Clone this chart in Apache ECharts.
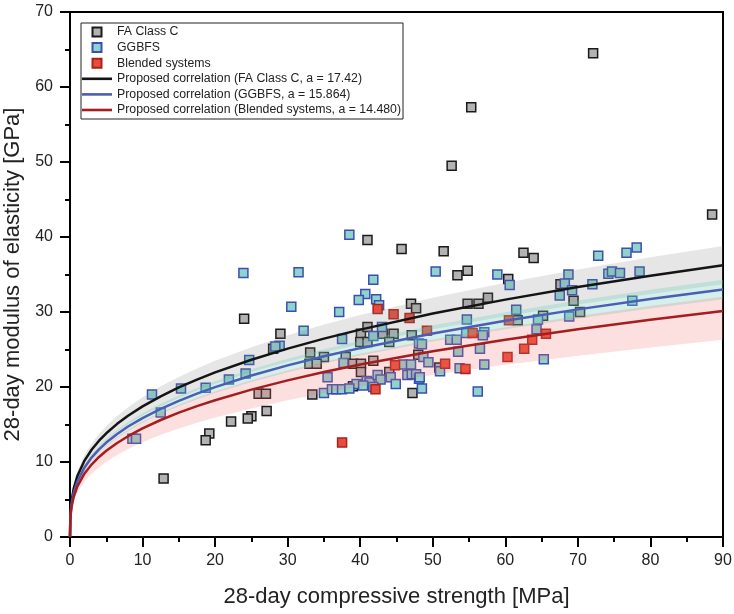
<!DOCTYPE html>
<html>
<head>
<meta charset="utf-8">
<script src="https://cdn.jsdelivr.net/npm/echarts@6/dist/echarts.min.js"></script>
<style>html,body{margin:0;padding:0;background:#fff}#c{width:734px;height:614px}</style>
</head>
<body>
<div id="c"></div>
<script>
// ---- scatter data (28-day compressive strength [MPa], 28-day modulus [GPa]) ----
const faX = [72.1,55.3,52.6,88.5,12.9,41.0,45.7,24.0,29.0,28.0,33.1,35.0,40.1,41.0,40.0,41.0,43.1,44.6,44.0,47.0,47.7,47.1,33.0,34.0,38.0,39.0,40.1,40.1,41.8,44.0,48.0,26.0,27.0,39.0,33.4,47.2,27.1,25.0,24.5,22.2,19.2,18.7,51.5,62.5,63.9,53.4,54.8,60.4,67.6,69.4,70.3,65.2,61.7,54.8,56.3,57.6,50.9];
const faY = [64.5,57.3,49.5,43.0,7.8,39.6,38.4,29.1,27.1,25.1,24.6,24.0,27.1,28.0,26.0,26.0,27.1,27.1,26.0,31.1,30.5,26.9,23.1,23.1,24.0,23.1,23.1,22.0,23.5,22.0,24.3,19.1,19.1,20.1,19.0,19.2,16.8,16.1,15.8,15.4,13.8,12.9,38.1,37.9,37.2,34.9,35.5,34.4,33.7,31.5,30.0,29.5,28.9,31.1,31.1,31.9,22.6];

const ggX = [38.5,23.9,31.5,41.8,40.7,39.8,42.2,42.6,30.5,37.1,32.2,43.0,37.5,28.9,28.3,24.7,24.2,21.9,18.7,15.3,11.3,12.5,8.6,9.1,41.8,37.7,35.5,39.5,40.9,41.3,42.4,42.8,44.2,44.9,35.0,36.1,36.7,37.5,38.5,40.4,41.8,45.9,47.0,46.5,47.1,47.7,48.1,48.1,50.4,58.9,60.6,72.8,76.7,78.1,68.7,68.2,69.2,67.5,72.0,74.2,74.7,75.8,78.5,77.5,61.5,54.7,64.5,68.8,64.3,54.6,57.1,56.9,52.4,53.3,48.5,56.5,53.5,48.7,49.4,57.1,53.7,51.0,48.2,48.5,56.2,65.3];
const ggY = [40.3,35.2,35.3,34.3,32.4,31.6,31.7,30.9,30.7,30.0,27.5,28.0,26.4,25.5,25.4,23.6,21.8,21.0,19.9,19.8,19.0,16.6,13.1,13.1,26.8,23.2,21.3,20.4,20.8,20.6,21.6,21.0,21.3,20.4,19.2,19.7,19.7,19.7,19.8,20.2,20.0,23.0,23.0,21.6,21.7,21.7,21.1,25.8,35.4,35.0,33.6,37.5,37.9,38.6,35.0,33.8,32.9,32.2,33.7,35.1,35.4,35.2,35.4,31.5,30.3,29.0,29.0,29.4,27.7,27.2,27.3,26.9,26.3,26.3,25.7,25.1,24.7,24.0,23.3,23.0,22.5,22.1,21.3,19.8,19.4,23.7];

const blX = [42.4,44.6,46.8,44.8,42.1,37.5,55.5,65.6,63.7,62.6,60.3,51.7,54.5,49.2,60.5];
const blY = [30.4,29.7,29.2,22.9,19.7,12.6,27.2,27.1,26.3,25.1,24.0,23.1,22.4,27.5,28.9];

// ---- proposed correlation curves and their bands, sampled along x ----
const curveX  = [0,0.05,0.2,0.5,1,2,3,4,5,6.5,8,10,12.5,15,17.5,20,25,30,35,40,50,60,70,80,90];
const faCurve = [0,2.98,4.73,6.42,8.09,10.19,11.66,12.84,13.83,15.09,16.17,17.42,18.76,19.94,20.99,21.95,23.64,25.12,26.45,27.65,29.79,31.65,33.32,34.84,36.24];
const ggCurve = [0,2.71,4.31,5.84,7.36,9.28,10.62,11.69,12.59,13.74,14.73,15.86,17.09,18.16,19.12,19.99,21.53,22.88,24.09,25.18,27.13,28.83,30.35,31.73,33.00];
const blCurve = [0,2.48,3.93,5.33,6.72,8.47,9.69,10.67,11.49,12.54,13.44,14.48,15.60,16.58,17.45,18.24,19.65,20.88,21.99,22.99,24.76,26.31,27.70,28.96,30.12];
const faHi = [0,3.19,5.06,6.87,8.66,10.91,12.48,13.74,14.80,16.15,17.31,18.65,20.09,21.35,22.48,23.50,25.31,26.90,28.32,29.60,31.89,33.89,35.68,37.30,38.79];
const faLo = [0,2.77,4.40,5.97,7.52,9.47,10.84,11.94,12.86,14.03,15.04,16.20,17.45,18.54,19.52,20.41,21.99,23.36,24.60,25.72,27.70,29.44,30.99,32.40,33.70];
const ggHi = [0,2.82,4.48,6.07,7.65,9.64,11.04,12.15,13.09,14.28,15.31,16.49,17.76,18.88,19.87,20.78,22.38,23.78,25.04,26.18,28.20,29.96,31.54,32.98,34.30];
const ggLo = [0,2.61,4.14,5.61,7.07,8.91,10.20,11.23,12.10,13.20,14.15,15.24,16.42,17.45,18.37,19.20,20.68,21.98,23.14,24.19,26.06,27.69,29.15,30.48,31.70];
const blHi = [0,2.63,4.18,5.67,7.15,9.01,10.31,11.35,12.22,13.34,14.30,15.40,16.59,17.63,18.56,19.40,20.90,22.21,23.38,24.45,26.33,27.98,29.46,30.80,32.03];
const blLo = [0,2.16,3.43,4.66,5.87,7.39,8.46,9.31,10.03,10.95,11.73,12.64,13.62,14.47,15.23,15.93,17.15,18.23,19.19,20.06,21.61,22.97,24.18,25.28,26.29];

const xTicks = [0,10,20,30,40,50,60,70,80,90];
const yTicks = [0,10,20,30,40,50,60,70];

const names = {
  fa: 'FA Class C', gg: 'GGBFS', bl: 'Blended systems',
  faL: 'Proposed correlation (FA Class C, a = 17.42)',
  ggL: 'Proposed correlation (GGBFS, a = 15.864)',
  blL: 'Proposed correlation (Blended systems, a = 14.480)'
};

const zip = (a, b) => a.map((v, i) => [v, b[i]]);
const FONT = '"Liberation Sans", Arial, sans-serif';
const SQUARE = 'path://M0 0H10V10H0Z';
const BAR = 'path://M0 0H30V2.6H0Z';

function band(hi, lo, color) {
  return {
    type: 'custom', silent: true, z: 3, data: [[0, 0]],
    renderItem: function (params, api) {
      const pts = [];
      for (let i = 0; i < curveX.length; i++) pts.push(api.coord([curveX[i], hi[i]]));
      for (let i = curveX.length - 1; i >= 0; i--) pts.push(api.coord([curveX[i], lo[i]]));
      return { type: 'polygon', shape: { points: pts }, style: { fill: color } };
    }
  };
}

function scatter(name, xs, ys, fill, stroke) {
  return {
    name: name, type: 'scatter', symbol: 'rect', symbolSize: 9, z: 2,
    data: zip(xs, ys),
    itemStyle: { color: fill, borderColor: stroke, borderWidth: 1.5, opacity: 1 }
  };
}

function curve(name, ys, color) {
  return {
    name: name, type: 'line', showSymbol: false, symbol: 'none', z: 5,
    data: zip(curveX, ys), smooth: false,
    lineStyle: { color: color, width: 2.5 }, itemStyle: { color: color }
  };
}

const chart = echarts.init(document.getElementById('c'), null, { renderer: 'canvas' });
chart.setOption({
  animation: false,
  backgroundColor: '#fff',
  textStyle: { fontFamily: FONT },
  grid: { left: 70, right: 11, top: 12, bottom: 77, outerBoundsMode: 'none', containLabel: false,
          show: true, borderColor: '#000', borderWidth: 2, backgroundColor: 'transparent' },
  legend: {
    orient: 'vertical', left: 81, top: 23,
    padding: [3, 2, 3, 1], itemGap: 3.6, itemWidth: 30, itemHeight: 9,
    symbolKeepAspect: true,
    borderColor: '#222', borderWidth: 1, backgroundColor: '#fff',
    textStyle: { fontFamily: FONT, fontSize: 12.3, color: '#222' },
    data: [
      { name: names.fa, icon: SQUARE },
      { name: names.gg, icon: SQUARE },
      { name: names.bl, icon: SQUARE },
      { name: names.faL, icon: BAR, itemStyle: { borderWidth: 0 } },
      { name: names.ggL, icon: BAR, itemStyle: { borderWidth: 0 } },
      { name: names.blL, icon: BAR, itemStyle: { borderWidth: 0 } }
    ]
  },
  xAxis: {
    type: 'value', min: xTicks[0], max: xTicks[xTicks.length - 1], interval: 10,
    name: '28-day compressive strength [MPa]', nameLocation: 'middle', nameGap: 49,
    nameTextStyle: { fontSize: 22, color: '#222', fontFamily: FONT },
    axisLine: { show: true, lineStyle: { color: '#000', width: 2 } },
    axisTick: { show: true, inside: false, length: 10, lineStyle: { color: '#000', width: 2 } },
    minorTick: { show: true, splitNumber: 2, length: 5, lineStyle: { color: '#000', width: 2 } },
    axisLabel: { fontSize: 16, color: '#222', margin: 16, fontFamily: FONT },
    splitLine: { show: false }
  },
  yAxis: {
    type: 'value', min: yTicks[0], max: yTicks[yTicks.length - 1], interval: 10,
    name: '28-day modulus of elasticity [GPa]', nameLocation: 'middle', nameGap: 42,
    nameTextStyle: { fontSize: 22, color: '#222', fontFamily: FONT },
    axisLine: { show: true, lineStyle: { color: '#000', width: 2 } },
    axisTick: { show: true, inside: false, length: 10, lineStyle: { color: '#000', width: 2 } },
    minorTick: { show: true, splitNumber: 2, length: 5, lineStyle: { color: '#000', width: 2 } },
    axisLabel: { fontSize: 16, color: '#222', margin: 17, fontFamily: FONT },
    splitLine: { show: false }
  },
  series: [
    scatter(names.fa, faX, faY, '#b3b3b3', '#1a1a1a'),
    scatter(names.gg, ggX, ggY, '#8fd3cc', '#3a4fb0'),
    scatter(names.bl, blX, blY, '#e94c3a', '#a8221c'),
    band(faHi, faLo, 'rgba(128,128,128,0.2)'),
    band(ggHi, ggLo, 'rgba(110,205,185,0.3)'),
    band(blHi, blLo, 'rgba(240,110,110,0.22)'),
    curve(names.faL, faCurve, '#141414'),
    curve(names.ggL, ggCurve, '#4e5cb4'),
    curve(names.blL, blCurve, '#a51e1e')
  ]
});
</script>
</body>
</html>
